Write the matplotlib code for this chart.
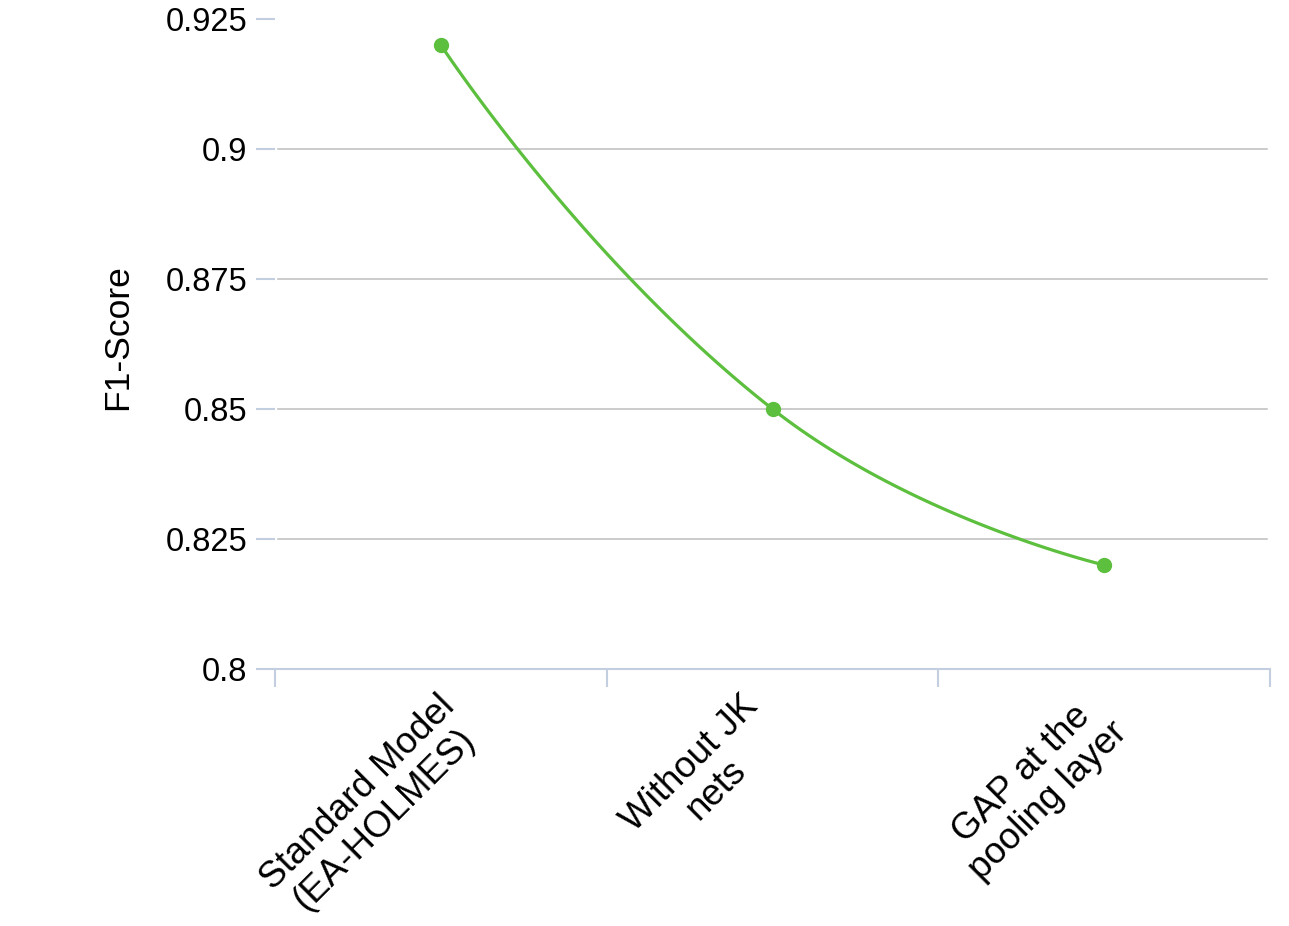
import numpy as np
import matplotlib
matplotlib.use("Agg")
import matplotlib.pyplot as plt

categories = ["Standard Model\n(EA-HOLMES)", "Without JK\nnets", "GAP at the\npooling layer"]
f1_scores = [0.92, 0.85, 0.82]
y_ticks = [0.8, 0.825, 0.85, 0.875, 0.9, 0.925]
y_tick_labels = ["0.8", "0.825", "0.85", "0.875", "0.9", "0.925"]

LINE_COLOR = "#5cbf3d"
AXIS_COLOR = "#c3cfe0"
GRID_COLOR = "#bdbdbd"

plt.rcParams["font.family"] = ["Liberation Sans", "DejaVu Sans"]

W, H = 1289, 926
fig = plt.figure(figsize=(W / 100, H / 100), dpi=100)
ax = fig.add_axes([275 / W, 1 - 669 / H, (1270 - 275) / W, (669 - 19) / H])

ax.set_xlim(0, len(categories))
ax.set_ylim(y_ticks[0], y_ticks[-1])


def smooth_curve(xs, ys, smooth=0.5, n=60):
    # echarts-like bezier smoothing, done in pixel space
    pts = ax.transData.transform(np.column_stack([xs, ys]))
    m = len(pts)
    out = [pts[0]]
    for i in range(m - 1):
        p0, p1 = pts[i], pts[i + 1]
        if i == 0:
            c0 = p0
        else:
            prev = pts[i - 1]
            v = p1 - prev
            d0 = np.linalg.norm(p0 - prev)
            d1 = np.linalg.norm(p1 - p0)
            c0 = p0 + v * smooth * d1 / (d0 + d1)
        if i + 1 == m - 1:
            c1 = p1
        else:
            nxt = pts[i + 2]
            v = nxt - p0
            d0 = np.linalg.norm(p1 - p0)
            d1 = np.linalg.norm(nxt - p1)
            c1 = p1 - v * smooth * d0 / (d0 + d1)
        t = np.linspace(0, 1, n)[1:, None]
        seg = ((1 - t) ** 3 * p0 + 3 * (1 - t) ** 2 * t * c0
               + 3 * (1 - t) * t ** 2 * c1 + t ** 3 * p1)
        out.extend(seg)
    return ax.transData.inverted().transform(np.array(out))


xs = np.arange(len(categories)) + 0.5
curve = smooth_curve(xs, f1_scores)
ax.plot(curve[:, 0], curve[:, 1], color=LINE_COLOR, lw=2.3, zorder=3, clip_on=False)
ax.plot(xs, f1_scores, "o", color=LINE_COLOR, ms=10, zorder=4, clip_on=False)

# grid lines (not at the bottom / top)
for yv in y_ticks[1:-1]:
    ax.axhline(yv, color=GRID_COLOR, lw=1.1, xmin=0.003, xmax=0.997, zorder=1)

for side in ["top", "right", "left"]:
    ax.spines[side].set_visible(False)
ax.spines["bottom"].set_color(AXIS_COLOR)
ax.spines["bottom"].set_linewidth(1.5)

ax.set_yticks(y_ticks)
ax.set_yticklabels(y_tick_labels)
ax.tick_params(axis="y", length=14, width=1.5, color=AXIS_COLOR, pad=6,
               labelsize=23.5, labelcolor="black")

ax.set_xticks(np.arange(len(categories) + 1))
ax.set_xticklabels([])
ax.tick_params(axis="x", length=13, width=1.5, color=AXIS_COLOR)

# rotated category labels, bbox top-centre hung below each category
for x, lab in zip(xs, categories):
    ax.annotate(lab, xy=(x, y_ticks[0]), xytext=(-50, -14),
                textcoords="offset points", xycoords="data",
                rotation=45, rotation_mode="default", ha="center", va="top",
                multialignment="center", fontsize=26.5, color="black",
                linespacing=1.1)

ax.set_ylabel("F1-Score", fontsize=25.5)
ax.yaxis.set_label_coords(-0.142, 0.511)

fig.savefig("out.png", dpi=100)
